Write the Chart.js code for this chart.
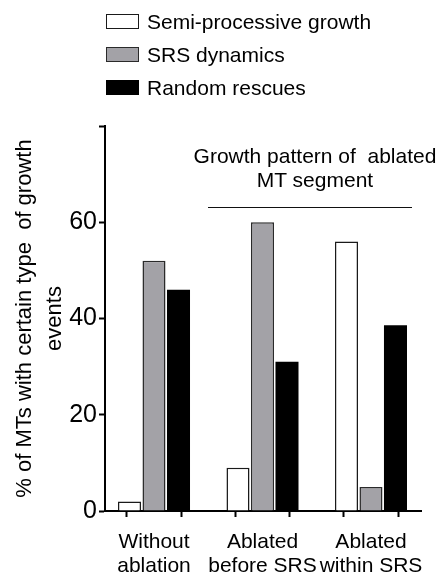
<!DOCTYPE html>
<html><head><meta charset="utf-8">
<script src="https://cdn.jsdelivr.net/npm/chart.js@4"></script>
<style>
html,body{margin:0;padding:0;background:#fff;}
#wrap{position:relative;width:441px;height:577px;font-family:"Liberation Sans",Arial,sans-serif;color:#000;overflow:hidden;}
#c{position:absolute;left:0;top:0;}
.leg{position:absolute;left:106px;height:15px;display:flex;align-items:center;font-size:21px;white-space:nowrap;}
.leg .box{box-sizing:border-box;width:33px;height:15px;border:1.5px solid #222;margin-right:8px;flex:none;}
#note{position:absolute;left:165px;top:144px;width:300px;text-align:center;font-size:21px;line-height:23.5px;white-space:pre;}
#noteLine{position:absolute;left:208px;top:207px;width:204px;height:0;border-top:1px solid #111;}
</style></head>
<body>
<div id="wrap">
<canvas id="c" width="441" height="577"></canvas>
<div id="legend"></div>
<div id="note"></div>
<div id="noteLine"></div>
</div>
<script>
// ---- data ----
const categories = [['Without', 'ablation'], ['Ablated', 'before SRS'], ['Ablated', 'within SRS']];
const seriesNames = ['Semi-processive growth', 'SRS dynamics', 'Random rescues'];
const semiProcessive = [2, 9, 56];
const srsDynamics = [52, 60, 5];
const randomRescues = [46, 31, 38.6];
const yTickValues = [0, 20, 40, 60];
const yAxisTitle = ['% of MTs with certain type  of growth', 'events'];
const noteText = ['Growth pattern of  ablated', 'MT segment'];

// ---- styles ----
const fills = ['#ffffff', '#a3a2a7', '#000000'];
const borders = ['#1a1a1a', '#2a2a2a', '#000000'];
const FONT = '"Liberation Sans", Arial, sans-serif';

const seriesValues = [semiProcessive, srsDynamics, randomRescues];

// HTML legend
const legend = document.getElementById('legend');
const legTops = [14, 47, 80];
seriesNames.forEach((name, i) => {
  const d = document.createElement('div');
  d.className = 'leg';
  d.style.top = legTops[i] + 'px';
  const b = document.createElement('span');
  b.className = 'box';
  b.style.background = fills[i];
  b.style.borderColor = borders[i];
  d.appendChild(b);
  d.appendChild(document.createTextNode(name));
  legend.appendChild(d);
});
document.getElementById('note').textContent = noteText.join('\n');

const datasets = seriesValues.map((vals, i) => ({
  label: seriesNames[i],
  data: vals.map((v, k) => ({x: k, y: v})),
  backgroundColor: fills[i],
  borderColor: borders[i],
  borderWidth: i === 2 ? 0 : 1.5,
  categoryPercentage: 1.355,
  barPercentage: 0.94
}));

new Chart(document.getElementById('c'), {
  type: 'bar',
  data: {datasets},
  options: {
    responsive: false,
    animation: false,
    events: [],
    layout: {padding: {top: 126, right: 20, bottom: 0, left: 0}},
    plugins: {legend: {display: false}, tooltip: {enabled: false}},
    scales: {
      x: {
        type: 'linear',
        offset: false,
        min: -0.4516,
        max: 2.461,
        afterBuildTicks: s => { s.ticks = [0, 0.5, 1, 1.5, 2].map(v => ({value: v})); },
        afterFit: s => { s.height = 66; },
        grid: {drawOnChartArea: false, drawTicks: true, tickLength: 6, tickWidth: 2, tickColor: '#000', color: '#000'},
        border: {display: true, color: '#000', width: 2},
        ticks: {
          autoSkip: false, maxRotation: 0, minRotation: 0, padding: 14,
          color: '#000',
          font: {family: FONT, size: 21, lineHeight: 1.11},
          callback: v => Number.isInteger(v) ? categories[v] : ''
        }
      },
      y: {
        min: 0, max: 80,
        afterFit: s => { s.width = 105; },
        grid: {drawOnChartArea: false, drawTicks: true, tickLength: 6, tickWidth: 2, tickColor: '#000', color: '#000'},
        border: {display: true, color: '#000', width: 2},
        ticks: {
          stepSize: 20, padding: 2, color: '#000',
          font: {family: FONT, size: 25},
          callback: v => yTickValues.includes(v) ? String(v) : ''
        },
        title: {
          display: true, text: yAxisTitle, color: '#000',
          font: {family: FONT, size: 22, lineHeight: 1.364},
          padding: {top: 10, bottom: 0}
        }
      }
    }
  }
});
</script>
</body></html>
